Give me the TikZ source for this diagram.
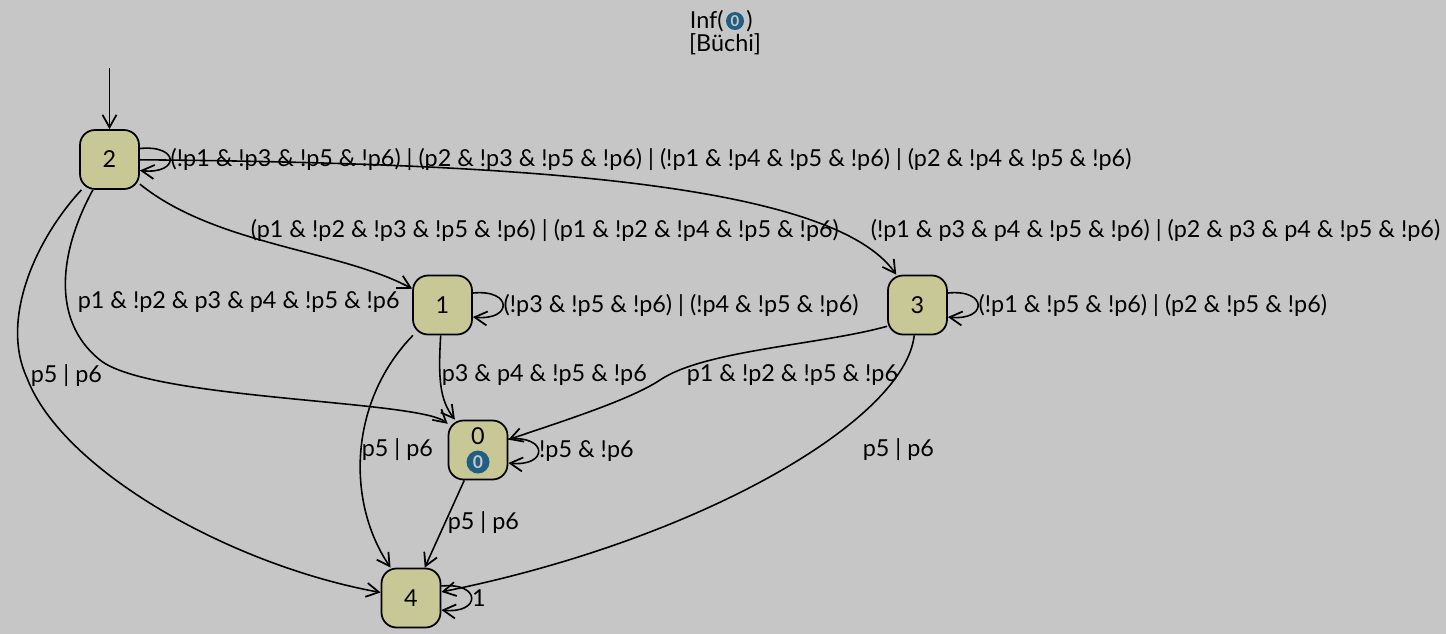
\documentclass[tikz,border=0pt]{standalone}
\usepackage{fontspec}
\setmainfont{Lato}
\usepackage{tikz}
\usetikzlibrary{arrows.meta, calc, positioning}

\definecolor{bgGray}{RGB}{198,198,198}
\definecolor{stateFill}{RGB}{200,200,150}
\definecolor{accBlue}{RGB}{33,94,131}

\begin{document}
\begin{tikzpicture}[x=0.02cm, y=-0.02cm, font=\fontsize{13.3}{15}\selectfont,
  state/.style={draw, line width=1pt, fill=stateFill, rounded corners=0.3cm, minimum size=1.18cm, inner sep=0pt},
  edge/.style={-{Straight Barb[length=2.5mm, width=2.8mm, line width=1pt]}, line width=0.9pt},
  acc/.style={circle, fill=accBlue, text=bgGray, inner sep=0pt, minimum size=0.46cm, font=\fontsize{10}{11}\selectfont\bfseries},
  lbl/.style={anchor=west, inner sep=0pt}]
\useasboundingbox (0,0) rectangle (1446,633);
\fill[bgGray] (-5,-5) rectangle (1451,638);

% title
\node[acc, minimum size=0.36cm, font=\fontsize{8.5}{9}\selectfont\bfseries] (titleAcc) at (735,21) {0};
\node[inner sep=0pt, left=1pt of titleAcc] (titleInf) {Inf(};
\node[inner sep=0pt, right=1pt of titleAcc] (titleClose) {)};
\node[inner sep=0pt] (titleBuchi) at (725,44) {[Büchi]};

% states
\node[state] (n2) at (109.5,159.5) {2};
\node[state] (n1) at (442.5,305) {1};
\node[state] (n3) at (917.5,305) {3};
\node[state] (n0) at (478,450) {};
\node (n0txt) at (478,436) {0};
\node[acc] (n0acc) at (478,462) {0};
\node[state] (n4) at (411,598) {4};

% initial
\coordinate (init) at (109.5,68);
\draw[edge] (init) -- (n2);

% loops
\draw[edge] ($(n2.east)+(0,-11)$) .. controls +(40,-4) and +(40,4) .. ($(n2.east)+(0,11)$)
  node[lbl, pos=0.5] {(!p1 \& !p3 \& !p5 \& !p6) | (p2 \& !p3 \& !p5 \& !p6) | (!p1 \& !p4 \& !p5 \& !p6) | (p2 \& !p4 \& !p5 \& !p6)};
\draw[edge] ($(n1.east)+(0,-12)$) .. controls +(40,-4) and +(40,4) .. ($(n1.east)+(0,12)$)
  node[lbl, pos=0.5] {(!p3 \& !p5 \& !p6) | (!p4 \& !p5 \& !p6)};
\draw[edge] ($(n3.east)+(0,-12)$) .. controls +(40,-4) and +(40,4) .. ($(n3.east)+(0,12)$)
  node[lbl, pos=0.5] {(!p1 \& !p5 \& !p6) | (p2 \& !p5 \& !p6)};
\draw[edge] ($(n0.east)+(0,-11)$) .. controls +(40,-4) and +(40,4) .. ($(n0.east)+(0,13)$)
  node[lbl, pos=0.5] {!p5 \& !p6};
\draw[edge] ($(n4.east)+(0,-12)$) .. controls +(40,-4) and +(40,4) .. ($(n4.east)+(0,12)$)
  node[lbl, pos=0.5] {1};

% from 2
\draw[edge] (n2) .. controls (500,163) and (830,180) .. (n3)
  node[lbl] at (870,230) {(!p1 \& p3 \& p4 \& !p5 \& !p6) | (p2 \& p3 \& p4 \& !p5 \& !p6)};
\draw[edge] (n2) .. controls (215,245) and (340,250) .. (n1)
  node[lbl] at (250,230) {(p1 \& !p2 \& !p3 \& !p5 \& !p6) | (p1 \& !p2 \& !p4 \& !p5 \& !p6)};
\draw[edge] (n2) .. controls (60,250) and (50,320) .. (100,360) .. controls (150,400) and (420,400) .. (n0)
  node[lbl] at (77,302) {p1 \& !p2 \& p3 \& p4 \& !p5 \& !p6};
\draw[edge] (n2) .. controls (35,240) and (0,320) .. (27,378) .. controls (62,470) and (230,565) .. (n4)
  node[lbl] at (30,376) {p5 | p6};

% from 1
\draw[edge] (n1) .. controls (438,380) and (440,400) .. (n0)
  node[lbl] at (441,375) {p3 \& p4 \& !p5 \& !p6};
\draw[edge] (n1) .. controls (350,400) and (345,500) .. (n4)
  node[lbl] at (361,450) {p5 | p6};

% from 3
\draw[edge] (n3.215) .. controls (820,345) and (705,350) .. (660,380) .. controls (630,400) and (560,422) .. (n0)
  node[lbl] at (686,375) {p1 \& !p2 \& !p5 \& !p6};
\draw[edge] (n3) .. controls (905,420) and (700,540) .. (n4)
  node[lbl] at (862,450) {p5 | p6};

% from 0
\draw[edge] (n0) -- (n4) node[lbl] at (447,523) {p5 | p6};
\end{tikzpicture}
\end{document}
